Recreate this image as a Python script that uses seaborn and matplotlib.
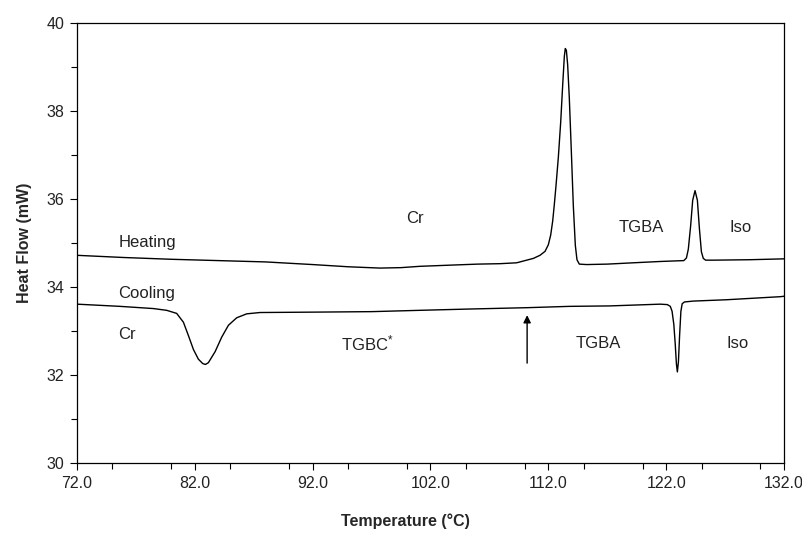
import matplotlib
matplotlib.use("Agg")
import matplotlib.pyplot as plt
from matplotlib.ticker import MultipleLocator
import seaborn as sns
import pandas as pd

# ---- data ----
heat_T = [72.0, 76.0, 80.0, 84.0, 88.0, 92.0, 95.0, 97.7, 99.5, 101.1, 104.0, 106.0,
          107.9, 109.31, 110.73, 111.29, 111.72, 112.0, 112.2, 112.37, 112.51, 112.65,
          112.85, 113.05, 113.22, 113.36, 113.44, 113.53, 113.64, 113.78, 113.95, 114.12,
          114.29, 114.43, 114.63, 115.25, 117.0, 119.2, 121.5, 123.5, 123.72, 123.88,
          124.08, 124.25, 124.45, 124.65, 124.82, 124.99, 125.15, 125.35, 126.0, 129.1,
          132.0]
heat_HF = [34.72, 34.67, 34.63, 34.60, 34.57, 34.51, 34.46, 34.43, 34.44, 34.47, 34.50, 34.52,
           34.53, 34.55, 34.65, 34.72, 34.81, 34.96, 35.18, 35.50, 35.88, 36.30,
           36.95, 37.75, 38.60, 39.25, 39.42, 39.38, 39.05, 38.30, 37.10, 35.85,
           34.95, 34.62, 34.52, 34.51, 34.52, 34.55, 34.58, 34.60, 34.66, 34.86,
           35.40, 35.97, 36.19, 35.97, 35.33, 34.80, 34.65, 34.61, 34.61, 34.62,
           34.64]

cool_T = [72.0, 75.65, 78.48, 79.61, 80.46, 81.03, 81.45, 81.88, 82.30, 82.67, 82.90,
          83.15, 83.72, 84.28, 84.85, 85.55, 86.40, 87.53, 92.63, 97.0, 101.1, 105.4,
          110.2, 113.8, 117.2, 121.5, 122.1, 122.35, 122.5, 122.65, 122.77, 122.87, 122.95,
          123.04, 123.14, 123.25, 123.36, 123.55, 124.3, 127.1, 131.7, 132.0]
cool_HF = [33.61, 33.56, 33.51, 33.47, 33.40, 33.20, 32.90, 32.58, 32.36, 32.26, 32.24,
           32.28, 32.53, 32.86, 33.13, 33.30, 33.39, 33.42, 33.43, 33.44, 33.47, 33.50,
           33.53, 33.56, 33.57, 33.61, 33.60, 33.56, 33.45, 33.15, 32.70, 32.25, 32.07,
           32.30, 32.90, 33.45, 33.62, 33.66, 33.68, 33.71, 33.78, 33.79]

x_ticks = [72.0, 82.0, 92.0, 102.0, 112.0, 122.0, 132.0]
y_ticks = [30, 32, 34, 36, 38, 40]

labels_text = ["Heating", "Cooling", "Cr", "Cr", "TGBC$^{*}$", "TGBA", "Iso", "TGBA", "Iso"]
labels_x = [75.5, 75.5, 75.5, 99.9, 94.4, 118.0, 127.4, 114.3, 127.1]
labels_y = [35.02, 33.85, 32.92, 35.55, 32.72, 35.35, 35.35, 32.72, 32.72]

arrow_T = 110.2
arrow_from = 32.27
arrow_to = 33.36

# ---- plotting ----
sns.set_style("ticks")
plt.rcParams['font.family'] = ['Liberation Sans', 'DejaVu Sans']
plt.rcParams['mathtext.default'] = 'regular'

fig = plt.figure(figsize=(8.03, 5.34), dpi=100)
ax = fig.add_axes([77 / 803, 1 - 463 / 534, 707 / 803, 440 / 534])

heat_df = pd.DataFrame({"T": heat_T, "HF": heat_HF})
cool_df = pd.DataFrame({"T": cool_T, "HF": cool_HF})
sns.lineplot(data=heat_df, x="T", y="HF", sort=False, estimator=None,
             color="black", linewidth=1.0, ax=ax)
sns.lineplot(data=cool_df, x="T", y="HF", sort=False, estimator=None,
             color="black", linewidth=1.0, ax=ax)

ax.set_xlim(72, 132)
ax.set_ylim(30, 40)
ax.set_xticks(x_ticks)
ax.set_xticklabels([f"{v:.1f}" for v in x_ticks])
ax.set_yticks(y_ticks)
ax.set_yticklabels([str(v) for v in y_ticks])
ax.xaxis.set_minor_locator(MultipleLocator(5))
ax.yaxis.set_minor_locator(MultipleLocator(1))
ax.tick_params(which="major", direction="out", length=5, width=0.8,
               labelsize=11.5, color="black", labelcolor="#222222", pad=4)
ax.tick_params(which="minor", direction="out", length=4, width=0.8, color="black")
for s in ax.spines.values():
    s.set_visible(True)
    s.set_linewidth(0.9)
    s.set_color("black")

ax.set_xlabel("Temperature (°C)", fontsize=11.5, fontweight="bold")
ax.set_ylabel("Heat Flow (mW)", fontsize=11.5, fontweight="bold")
ax.xaxis.set_label_coords(0.464, -0.115)
ax.yaxis.set_label_coords(-0.063, 0.5)

for t, x, y in zip(labels_text, labels_x, labels_y):
    ax.text(x, y, t, fontsize=12, ha="left", va="center", color="#222222")

ax.annotate("", xy=(arrow_T, arrow_to), xytext=(arrow_T, arrow_from),
            arrowprops=dict(arrowstyle="-|>", color="black", lw=1.0,
                            mutation_scale=11, shrinkA=0, shrinkB=0))

fig.savefig("out.png", dpi=100)
